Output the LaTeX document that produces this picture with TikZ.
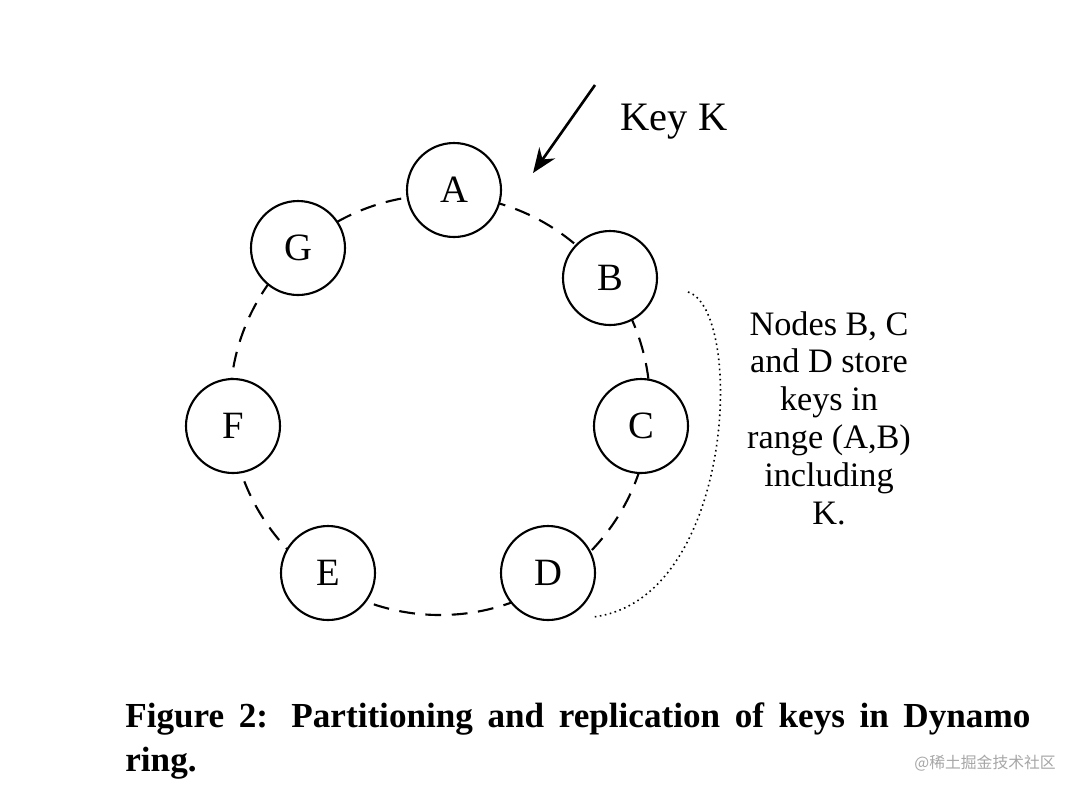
\documentclass[tikz,border=0pt]{standalone}
\usepackage{fontspec}
\usetikzlibrary{arrows.meta}
\setmainfont{Liberation Serif}
\newfontfamily\cjk{Noto Sans CJK SC}
\begin{document}
\begin{tikzpicture}[x=0.02cm,y=-0.02cm,
  ring/.style={circle,draw,line width=1.2pt,fill=white,minimum size=94*0.02cm,inner sep=0pt,font=\fontsize{22}{26}\selectfont}]
\useasboundingbox (0,0) rectangle (1084,795);
\draw[line width=1.2pt,dash pattern=on 9pt off 6pt] (440,405) circle (210*0.02cm);
\node[ring] (A) at (454,190) {A};
\node[ring] (B) at (610,278) {B};
\node[ring] (C) at (641,426) {C};
\node[ring] (D) at (548,573) {D};
\node[ring] (E) at (328,573) {E};
\node[ring] (F) at (233,426) {F};
\node[ring] (G) at (298,248) {G};
\coordinate (ks) at (595,85);
\coordinate (ke) at (533,173);
\draw[line width=1.5pt,-{Stealth[length=14pt,width=11pt]}] (ks) -- (ke);
\node[font=\fontsize{23}{27}\selectfont] (key) at (674,122) {Key K};
\coordinate (d1) at (688,292);
\coordinate (d2) at (593,617);
\draw[dotted,line width=0.9pt] (d1) .. controls (745,310) and (735,600) .. (d2);
\node[align=center,font=\fontsize{19.5}{21.5}\selectfont] (note) at (829,418) {Nodes B, C\\and D store\\keys in\\range (A,B)\\including\\K.};
\node[anchor=north west,text width=905*0.02cm,align=justify,inner sep=0pt,font=\bfseries\fontsize{20}{25}\selectfont] (cap) at (125,702) {Figure 2: Partitioning and replication of keys in Dynamo\linebreak ring.};
\node[anchor=east,text=gray!70,font=\cjk\fontsize{9}{11}\selectfont] (wm) at (1062,763) {@稀土掘金技术社区};
\end{tikzpicture}
\end{document}
